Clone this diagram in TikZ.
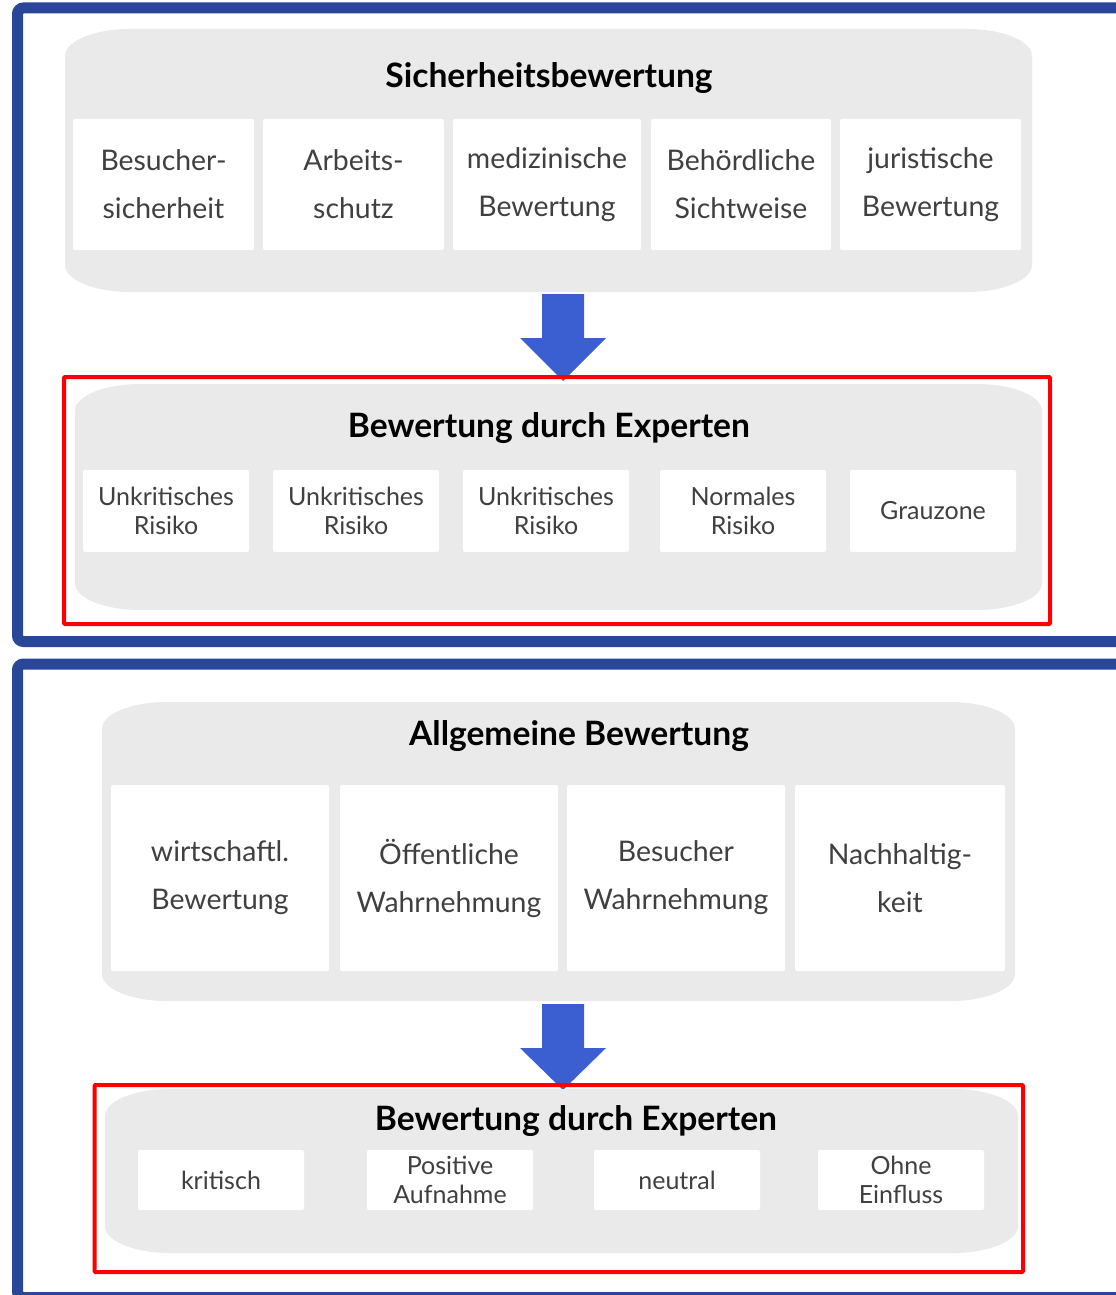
\documentclass[tikz,border=0pt]{standalone}
\usepackage{fontspec}
\setmainfont{Lato}
\usetikzlibrary{positioning, calc}
\definecolor{Frame}{HTML}{2A4699}
\definecolor{Pfeil}{HTML}{3B5FD0}
\definecolor{Panel}{HTML}{EAEAEA}
\definecolor{Schrift}{HTML}{404040}
\tikzset{
    kachel/.style={rectangle, rounded corners=1pt, fill=white, text=Schrift, align=center, inner sep=0pt},
    grosskachel/.style={kachel, font=\fontsize{14.2}{24}\selectfont},
    kleinkachel/.style={kachel, font=\fontsize{12.5}{14.5}\selectfont},
    titel/.style={anchor=base, font=\bfseries\fontsize{16.8}{20}\selectfont, text=black},
    rahmen/.style={draw=Frame, line width=5.5pt, rounded corners=3pt},
    expertenrahmen/.style={draw=red, line width=2pt, rounded corners=0.5pt},
    blockpfeil/.style={fill=Pfeil},
}
% graue Flaeche mit elliptischen Ecken: x1 y1 x2 y2
\newcommand{\panelflaeche}[4]{%
    \fill[Panel] (#1,#2+27) .. controls (#1,#2+12) and (#1+29,#2) .. (#1+65,#2)
        -- (#3-65,#2) .. controls (#3-29,#2) and (#3,#2+12) .. (#3,#2+27)
        -- (#3,#4-27) .. controls (#3,#4-12) and (#3-29,#4) .. (#3-65,#4)
        -- (#1+65,#4) .. controls (#1+29,#4) and (#1,#4-12) .. (#1,#4-27) -- cycle;}
\begin{document}
\begin{tikzpicture}[x=0.5pt, y=-0.5pt]
                        \useasboundingbox (0,0) rectangle (1115,1295);
                        % Rahmen
                        \draw[rahmen] (17.5,8) rectangle (1130,641.5);
                        \draw[rahmen] (17.5,664) rectangle (1130,1297.5);

                        % Sicherheitsbewertung
                        \panelflaeche{65}{29}{1032}{292}
                        \node[titel] (titelSB) at (549,88) {Sicherheitsbewertung};
                        \foreach \cx/\w/\txt [count=\i] in {163.5/181/{Besucher-\\sicherheit}, 353.5/181/{Arbeits-\\schutz}, 547/188/{medizinische\\Bewertung}, 741/180/{Behördliche\\Sichtweise}, 930.5/181/{juristische\\Bewertung}}
                            \node[grosskachel, minimum width=\w*0.5pt, minimum height=65.5pt] (sb\i) at (\cx,184.5) {\txt};

                        \coordinate (pfeilA) at (563,294);
                        \fill[blockpfeil] (pfeilA) ++(-21,0) -- ++(42,0) -- ++(0,44) -- ++(22,0) -- ++(-43,43) -- ++(-43,-43) -- ++(22,0) -- cycle;

                        % Bewertung durch Experten (oben)
                        \panelflaeche{75}{384}{1042}{610}
                        \node[titel] (titelEA) at (549,437) {Bewertung durch Experten};
                        \foreach \cx/\txt [count=\i] in {166/{Unkritisches\\Risiko}, 356/{Unkritisches\\Risiko}, 546/{Unkritisches\\Risiko}, 743/{Normales\\Risiko}, 933/{Grauzone}}
                            \node[kleinkachel, minimum width=83pt, minimum height=41pt] (ea\i) at (\cx,511) {\txt};
                        \draw[expertenrahmen] (64,377) rectangle (1050,624);

                        % Allgemeine Bewertung
                        \panelflaeche{102}{702}{1015}{1001}
                        \node[titel] (titelAB) at (579,745) {Allgemeine Bewertung};
                        \foreach \cx/\w/\txt [count=\i] in {220/218/{wirtschaftl.\\Bewertung}, 449/218/{Öffentliche\\Wahrnehmung}, 676/218/{Besucher\\Wahrnehmung}, 900/210/{Nachhaltig-\\keit}}
                            \node[grosskachel, minimum width=\w*0.5pt, minimum height=93pt] (ab\i) at (\cx,878) {\txt};

                        \coordinate (pfeilB) at (563,1004);
                        \fill[blockpfeil] (pfeilB) ++(-21,0) -- ++(42,0) -- ++(0,44) -- ++(22,0) -- ++(-43,42) -- ++(-43,-42) -- ++(22,0) -- cycle;

                        % Bewertung durch Experten (unten)
                        \panelflaeche{105}{1089}{1018}{1253}
                        \node[titel] (titelEB) at (576,1130) {Bewertung durch Experten};
                        \foreach \cx/\txt [count=\i] in {221/{kritisch}, 450/{Positive\\Aufnahme}, 677/{neutral}, 901/{Ohne\\Einfluss}}
                            \node[kleinkachel, minimum width=83pt, minimum height=30pt] (eb\i) at (\cx,1180) {\txt};
                        \draw[expertenrahmen] (94.5,1085) rectangle (1023,1272);
                    \end{tikzpicture}
\end{document}
